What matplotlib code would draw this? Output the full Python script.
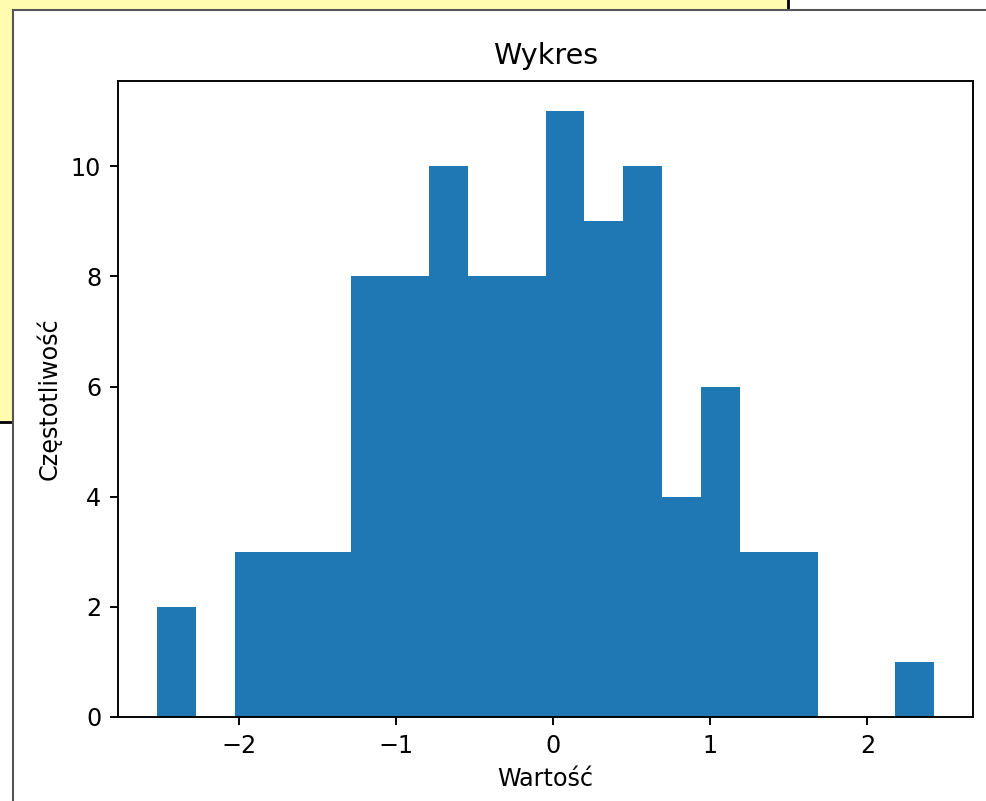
import numpy as np
import matplotlib.pyplot as plt
from matplotlib.patches import Rectangle

# histogram: 20 bins
bin_lo = -2.52
bin_hi = 2.425
counts = [2, 0, 3, 3, 3, 8, 8, 10, 8, 8, 11, 9, 10, 4, 6, 3, 3, 0, 0, 1]

title = "Wykres"
xlabel = "Wartość"
ylabel = "Częstotliwość"

edges = np.linspace(bin_lo, bin_hi, len(counts) + 1)

W, H = 987, 801
fig = plt.figure(figsize=(W / 100, H / 100), dpi=100)
fig.patch.set_facecolor('white')

# background: yellow note behind the plot window
fig.add_artist(Rectangle((-0.01, 1 - 422 / H), 788 / W + 0.01, 422 / H + 0.01,
                         transform=fig.transFigure, facecolor='#fffcb0',
                         edgecolor='black', linewidth=2, zorder=0))
# plot window (right and bottom edges run off the screenshot)
fig.add_artist(Rectangle((13 / W, -0.05), 1.2, 1 - 10 / H + 0.05,
                         transform=fig.transFigure, facecolor='white',
                         edgecolor='#555555', linewidth=1.5, zorder=1))

s = 1.72  # the screenshot is a scaled-up default figure
ax = fig.add_axes([118 / W, 1 - 717 / H, (973 - 118) / W, (717 - 81) / H])
ax.set_zorder(2)
ax.hist(edges[:-1], bins=edges, weights=counts, color='#1f77b4')
ax.set_title(title, fontsize=12 * s, pad=6 * s + 2)
ax.set_xlabel(xlabel, fontsize=10 * s, labelpad=4 * s)
ax.set_ylabel(ylabel, fontsize=10 * s, labelpad=4 * s)
ax.tick_params(labelsize=10 * s, length=3.5 * s, width=0.8 * s, pad=3.5 * s)
for sp in ax.spines.values():
    sp.set_linewidth(0.8 * s)

fig.savefig('out.png', dpi=100)
